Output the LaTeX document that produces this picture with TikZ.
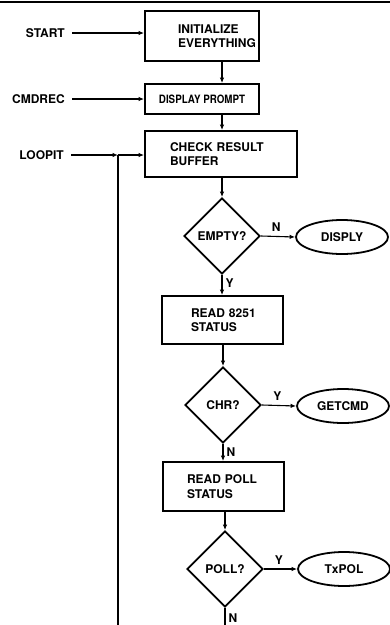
\documentclass[tikz,border=0pt]{standalone}
\usepackage{fontspec}
\setmainfont{TeX Gyre Heros}
\newfontfamily\condfont{TeX Gyre Heros}[FakeStretch=0.85]
\usetikzlibrary{shapes.geometric,arrows.meta}
\begin{document}
\begin{tikzpicture}[x=1pt,y=-1pt,
  font=\bfseries\fontsize{12}{14.5}\selectfont,
  box/.style={draw,line width=1.8pt,rectangle,inner sep=0pt,align=left},
  dec/.style={draw,line width=1.8pt,diamond,aspect=1,inner sep=0pt,minimum width=76pt,minimum height=76pt},
  term/.style={draw,line width=1.8pt,ellipse,inner sep=0pt,minimum width=92pt,minimum height=34pt},
  lbl/.style={inner sep=0pt},
  flow/.style={line width=1.1pt,-{Latex[length=5.5pt,width=4.5pt]}},
  plain/.style={line width=1.1pt}]
\useasboundingbox (0,0) rectangle (390,625);
\draw[line width=1.5pt] (0,2) -- (390,2);
% boxes
\node[box,minimum width=114pt,minimum height=50pt,text width=114pt] (init) at (202,36)
  {\hspace*{33pt}INITIALIZE\\\hspace*{33pt}EVERYTHING};
\node[box,minimum width=114pt,minimum height=30pt,align=center,font=\condfont\bfseries\fontsize{11.5}{13}\selectfont] (prompt) at (202,99) {DISPLAY PROMPT};
\node[box,minimum width=152pt,minimum height=46pt,text width=152pt] (check) at (221,154)
  {\hspace*{25pt}CHECK RESULT\\\hspace*{25pt}BUFFER};
\node[dec] (empty) at (222,236) {EMPTY?};
\node[term] (disply) at (342,237) {DISPLY};
\node[box,minimum width=121pt,minimum height=48pt,text width=121pt] (r8251) at (222.5,320)
  {\hspace*{29pt}READ 8251\\\hspace*{29pt}STATUS};
\node[dec] (chr) at (223,405) {CHR?};
\node[term] (getcmd) at (343,406) {GETCMD};
\node[box,minimum width=121pt,minimum height=49pt,text width=121pt] (rpoll) at (223.5,486.5)
  {\hspace*{24pt}READ POLL\\\hspace*{24pt}STATUS};
\node[dec] (poll) at (225,569) {POLL?};
\node[term] (txpol) at (344,569) {TxPOL};
% entry labels
\node[lbl,anchor=east] (start) at (65,33) {START};
\node[lbl,anchor=east] (cmdrec) at (65,99) {CMDREC};
\node[lbl,anchor=east] (loopit) at (64,155) {LOOPIT};
\coordinate (jn) at (118,155);
\coordinate (bot) at (118,625);
\coordinate (end) at (225,625);
% connectors
\draw[flow] (start.east) ++(7pt,0) -- (init.west |- start);
\draw[flow] (cmdrec.east) ++(7pt,0) -- (prompt.west);
\draw[flow] (loopit.east) ++(7pt,0) -- (jn);
\draw[flow] (jn) -- (check.west |- jn);
\draw[plain] (bot) -- (jn);
\draw[flow] (init.south -| 222,0) -- (prompt.north -| 222,0);
\draw[flow] (prompt.south -| 222,0) -- (check.north -| 222,0);
\draw[flow] (check.south -| empty) -- (empty.north);
\draw[flow] (empty.east) -- node[lbl,above=4pt,pos=0.45] (n1) {N} (disply.west);
\draw[flow] (empty.south) -- node[lbl,right=3pt,pos=0.4] (y1) {Y} (r8251.north -| empty);
\draw[flow] (r8251.south -| chr) -- (chr.north);
\draw[flow] (chr.east) -- node[lbl,above=4pt,pos=0.45] (y2) {Y} (getcmd.west);
\draw[flow] (chr.south) -- node[lbl,right=3pt,pos=0.45] (n2) {N} (rpoll.north -| chr);
\draw[flow] (rpoll.south -| poll) -- (poll.north);
\draw[flow] (poll.east) -- node[lbl,above=4pt,pos=0.45] (y3) {Y} (txpol.west);
\draw[plain] (poll.south) -- node[lbl,right=3pt,pos=0.6] (n3) {N} (end);
\end{tikzpicture}
\end{document}
